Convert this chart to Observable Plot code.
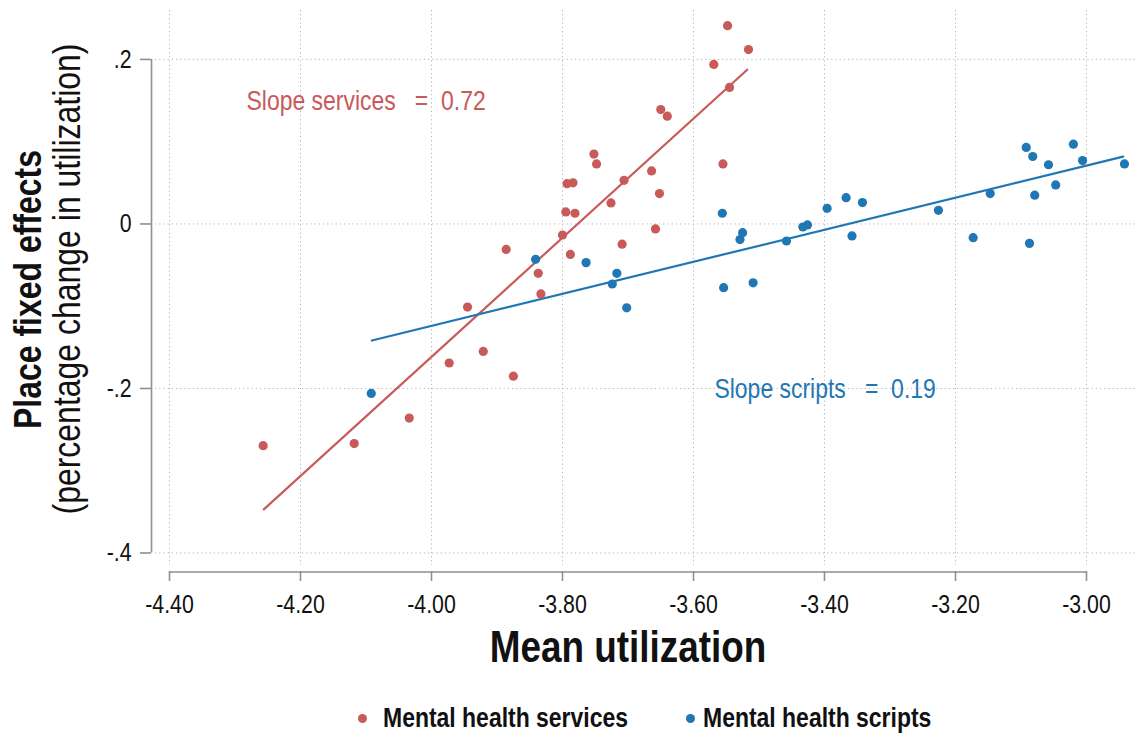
<!DOCTYPE html>
<html>
<head>
<meta charset="utf-8">
<script src="https://cdn.jsdelivr.net/npm/d3@7"></script>
<script src="https://cdn.jsdelivr.net/npm/@observablehq/plot@0.6"></script>
<style>
  html, body { margin: 0; padding: 0; background: #fff; }
  body { width: 1137px; height: 736px; position: relative; overflow: hidden;
         font-family: "Liberation Sans", Arial, sans-serif; }
  svg text { white-space: pre; }
  #legend { position: absolute; top: 0; left: 0; width: 1137px; height: 736px; pointer-events: none; }
  #legend .sw { position: absolute; width: 9px; height: 9px; border-radius: 50%; }
  #legend .lab { position: absolute; font-weight: bold; font-size: 28px; line-height: 30px; color: #111;
                 white-space: nowrap; transform: scaleX(0.82); transform-origin: 0 50%; }
</style>
</head>
<body>
<div id="chart"></div>
<div id="legend"></div>
<script>
// ---- data ----
const seriesNames = ["Mental health services", "Mental health scripts"];
const seriesColors = ["#c85a5a", "#1f77b4"];

const servicesX = [-3.548, -3.516, -3.569, -3.545, -3.650, -3.640, -3.752, -3.748, -3.793, -3.784,
                   -3.664, -3.706, -3.555, -3.652, -3.726, -3.795, -3.781, -3.658, -3.709, -3.800,
                   -3.788, -3.886, -3.837, -3.833, -3.945, -3.921, -3.973, -3.875, -4.034, -4.118, -4.257];
const servicesY = [0.241, 0.212, 0.194, 0.166, 0.139, 0.131, 0.085, 0.073, 0.049, 0.050,
                   0.0645, 0.053, 0.073, 0.037, 0.0256, 0.0146, 0.013, -0.006, -0.0246, -0.0134,
                   -0.037, -0.031, -0.060, -0.085, -0.101, -0.155, -0.169, -0.185, -0.236, -0.267, -0.2695];

const scriptsX = [-4.092, -3.841, -3.764, -3.717, -3.724, -3.702, -3.556, -3.525, -3.529, -3.554,
                  -3.509, -3.458, -3.433, -3.426, -3.396, -3.367, -3.342, -3.358, -3.226, -3.173,
                  -3.147, -3.092, -3.082, -3.058, -3.079, -3.047, -3.087, -3.020, -3.006, -2.942];
const scriptsY = [-0.206, -0.043, -0.047, -0.060, -0.073, -0.102, 0.013, -0.0106, -0.019, -0.0775,
                  -0.0715, -0.0207, -0.0037, -0.0012, 0.019, 0.032, 0.026, -0.0146, 0.0166, -0.0167,
                  0.037, 0.093, 0.082, 0.072, 0.035, 0.0475, -0.0236, 0.097, 0.077, 0.073];

// fitted lines (end points)
const servicesFitX = [-4.256, -3.518];
const servicesFitY = [-0.347, 0.1875];
const scriptsFitX = [-4.091, -2.944];
const scriptsFitY = [-0.1417, 0.0819];

// annotations
const annText = ["Slope services   =  0.72", "Slope scripts   =  0.19"];
const annX = [-4.2825, -3.568];
const annY = [0.149, -0.2005];

const xTicks = [-4.4, -4.2, -4.0, -3.8, -3.6, -3.4, -3.2, -3.0];
const yTicks = [-0.4, -0.2, 0, 0.2];

const xTitle = "Mean utilization";
const yTitle1 = "Place fixed effects";
const yTitle2 = "(percentage change in utilization)";

// ---- build tables ----
const pts = [
  ...servicesX.map((x, i) => ({x, y: servicesY[i], s: seriesNames[0]})),
  ...scriptsX.map((x, i) => ({x, y: scriptsY[i], s: seriesNames[1]}))
];
const fits = [
  ...servicesFitX.map((x, i) => ({x, y: servicesFitY[i], s: seriesNames[0]})),
  ...scriptsFitX.map((x, i) => ({x, y: scriptsFitY[i], s: seriesNames[1]}))
];
const anns = annText.map((t, i) => ({t, x: annX[i], y: annY[i], s: seriesNames[i]}));

const FONT = '"Liberation Sans", Arial, sans-serif';
const NARROW = 0.82;
const H = 690;
const fmtY = d => d === 0 ? "0" : (d < 0 ? "-" : "") + Math.abs(d).toFixed(1).replace(/^0/, "");
const fmtX = d => d.toFixed(2);
const axisGray = "#8f8f8f";
const gridGray = "#b4b4b4";
const xMid = (xTicks[0] + xTicks[xTicks.length - 1]) / 2;

const chart = Plot.plot({
  width: 1137,
  height: H,
  marginLeft: 155,
  marginRight: 0,
  marginTop: 10,
  marginBottom: H - 565,
  style: {fontFamily: FONT, background: "#fff", color: "#111"},
  x: {domain: [-4.4214, -2.9221]},
  y: {domain: [-0.4152, 0.2595]},
  color: {domain: seriesNames, range: seriesColors},
  marks: [
    Plot.gridX(xTicks, {stroke: gridGray, strokeOpacity: 1, strokeDasharray: "1.2,3"}),
    Plot.gridY(yTicks, {stroke: gridGray, strokeOpacity: 1, strokeDasharray: "1.2,3"}),
    // y axis line, offset to the left of the frame
    Plot.ruleX([xTicks[0]], {y1: yTicks[0], y2: yTicks[yTicks.length - 1], dx: -18, stroke: axisGray, strokeWidth: 1.6}),
    Plot.axisY(yTicks, {anchor: "left", tickSize: 11, dx: -4, tickPadding: 9, tickFormat: fmtY,
                        fontSize: 26, label: null, stroke: axisGray, strokeWidth: 1.6, fill: "#111"}),
    // x axis line, offset below the frame
    Plot.ruleY([yTicks[0]], {x1: xTicks[0], x2: xTicks[xTicks.length - 1], dy: 19, stroke: axisGray, strokeWidth: 1.6}),
    Plot.axisX(xTicks, {anchor: "bottom", tickSize: 10, dy: 6, tickPadding: 13, tickFormat: fmtX,
                        fontSize: 26, label: null, stroke: axisGray, strokeWidth: 1.6, fill: "#111"}),
    // fitted lines
    Plot.line(fits, {x: "x", y: "y", z: "s", stroke: "s", strokeWidth: 2.2}),
    // points
    Plot.dot(pts, {x: "x", y: "y", fill: "s", r: 4.6}),
    // annotations
    Plot.text(anns, {x: "x", y: "y", text: "t", fill: "s", textAnchor: "start", fontSize: 28}),
    // axis titles
    Plot.text([xTitle], {x: () => xMid, frameAnchor: "bottom", lineAnchor: "middle", textAnchor: "middle",
                         dy: 82, fontSize: 45, fontWeight: "bold", fill: "#111"}),
    Plot.text([yTitle1], {frameAnchor: "left", textAnchor: "middle", lineAnchor: "middle", rotate: -90,
                          dx: -127, dy: 1.5, fontSize: 39, fontWeight: "bold", fill: "#111"}),
    Plot.text([yTitle2], {frameAnchor: "left", textAnchor: "middle", lineAnchor: "middle", rotate: -90,
                          dx: -88, dy: -9, fontSize: 39, fill: "#111"})
  ]
});

// narrow all glyphs along the reading direction, like the reference's condensed type
chart.querySelectorAll("text").forEach(t => {
  const tr = t.getAttribute("transform");
  if (tr) {
    t.setAttribute("transform", tr + ` scale(${NARROW},1)`);
  } else {
    const x = +(t.getAttribute("x") || 0);
    t.setAttribute("transform", `translate(${x},0) scale(${NARROW},1) translate(${-x},0)`);
  }
});
document.getElementById("chart").appendChild(chart);

// legend (below the SVG)
const legend = document.getElementById("legend");
const legendDotX = [358, 686];
const legendLabX = [383, 703];
seriesNames.forEach((n, i) => {
  const sw = document.createElement("span");
  sw.className = "sw";
  sw.style.background = seriesColors[i];
  sw.style.left = legendDotX[i] + "px";
  sw.style.top = "714px";
  const lab = document.createElement("span");
  lab.className = "lab";
  lab.textContent = n;
  lab.style.left = legendLabX[i] + "px";
  lab.style.top = "703px";
  legend.appendChild(sw);
  legend.appendChild(lab);
});
</script>
</body>
</html>
